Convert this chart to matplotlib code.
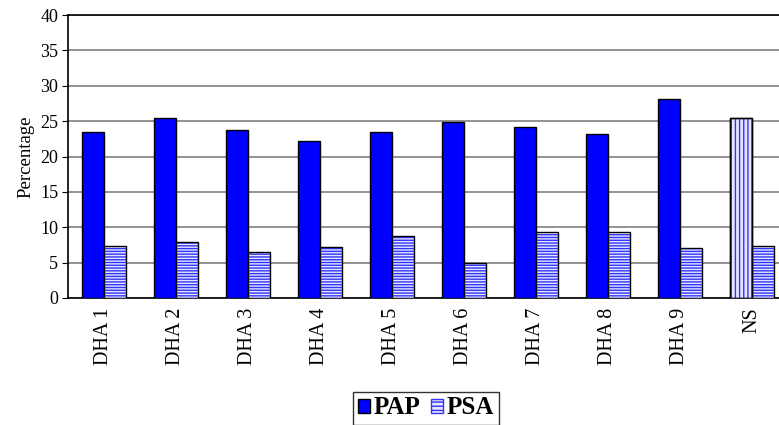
import matplotlib.pyplot as plt
import numpy as np
from matplotlib.patches import Patch

plt.rcParams["font.family"] = ["Liberation Serif", "DejaVu Serif"]
plt.rcParams["hatch.linewidth"] = 1.0

categories = ["DHA 1", "DHA 2", "DHA 3", "DHA 4", "DHA 5",
              "DHA 6", "DHA 7", "DHA 8", "DHA 9", "NS"]
pap = [23.5, 25.4, 23.7, 22.2, 23.5, 24.9, 24.1, 23.2, 28.1, 25.4]
psa = [7.35, 7.9, 6.5, 7.2, 8.7, 4.9, 9.3, 9.3, 7.1, 7.4]

fig = plt.figure(figsize=(7.79, 4.25), dpi=100)
# axes run off the right edge like in the source image
ax = fig.add_axes([68 / 779, 1 - 298 / 425, 720 / 779, 283 / 425])

x = np.arange(len(categories))
width = 0.3
pap_colors = ["#0000ff"] * (len(categories) - 1) + ["#e6e6ff"]
pap_hatch = [None] * (len(categories) - 1) + ["||||"]

for i in x:
    ax.bar(i - width / 2, pap[i], width, color=pap_colors[i], edgecolor="black",
           linewidth=1.0, zorder=3)
    if pap_hatch[i]:
        ax.bar(i - width / 2, pap[i], width, color="none", edgecolor="#3333ff",
               hatch=pap_hatch[i], linewidth=0, zorder=3)
        ax.bar(i - width / 2, pap[i], width, color="none", edgecolor="black",
               linewidth=1.0, zorder=4)

ax.bar(x + width / 2, psa, width, color="#e6e6ff", edgecolor="#3333ff",
       hatch="------", linewidth=0, zorder=3)
ax.bar(x + width / 2, psa, width, color="none", edgecolor="black",
       linewidth=1.0, zorder=4)

ax.set_xlim(-0.5, len(categories) - 0.5)
ax.set_ylim(0, 40)
ax.set_yticks(range(0, 41, 5))
ax.set_xticks(x, categories, rotation=90)
ax.tick_params(axis="x", length=0, pad=7, labelsize=14.5)
ax.tick_params(axis="y", length=4, direction="out", labelsize=13, pad=3)
ax.yaxis.grid(True, color="#808080", linewidth=1.2, zorder=0)
ax.set_axisbelow(True)
for side in ax.spines.values():
    side.set_linewidth(1.2)
ax.set_ylabel("Percentage", fontsize=13.5, labelpad=4)

handles = [
    Patch(facecolor="#0000ff", edgecolor="black", label="PAP"),
    Patch(facecolor="#e6e6ff", edgecolor="#3333ff", hatch="----", label="PSA"),
]
fig.legend(handles=handles, loc="center", bbox_to_anchor=(426 / 779, 1 - 408 / 425),
           ncol=2, frameon=True, fancybox=False, edgecolor="black",
           prop={"weight": "bold", "size": 18}, handlelength=0.5, handleheight=0.5,
           handletextpad=0.15, columnspacing=0.4, borderpad=0.2, borderaxespad=0)

fig.savefig("out.png", dpi=100)
